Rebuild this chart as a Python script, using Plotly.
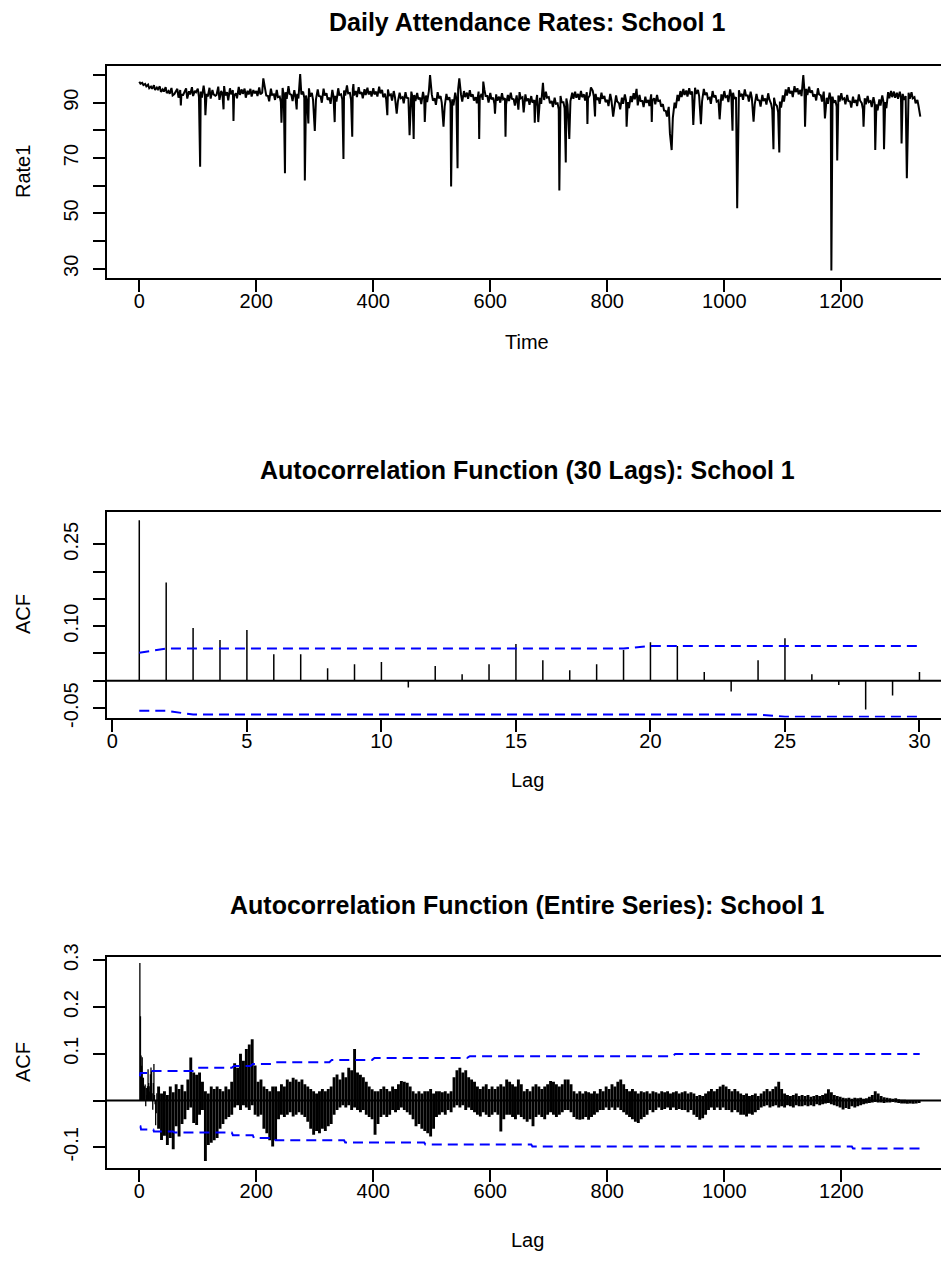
import plotly.graph_objects as go

# ---------------- Data ----------------
# Panel 1: daily attendance rate. Rates read every 5 days, a second reading offset
# by 2 days (the lower side of the jagged band), and the single-day spikes.
base_time = list(range(0, 1340, 5))
base_rate = [
    97.6, 97.2, 96.8, 96.5, 95.8, 96.3, 95.5, 95.9, 94.8, 95.6, 94.2, 95.3, 93.1, 95.0, 94.6, 92.8, 95.2, 94.1, 95.6, 94.3,
    95.1, 94.0, 96.2, 93.2, 95.4, 94.6, 92.5, 95.8, 94.2, 96.0, 93.8, 95.2, 94.5, 93.4, 95.7, 94.8, 95.1, 94.3, 95.0, 94.6,
    94.2, 95.5, 93.6, 94.8, 92.4, 95.1, 93.0, 94.6, 92.2, 95.3, 93.8, 96.0, 92.8, 94.5, 93.2, 95.8, 94.0, 92.6, 95.2, 93.5,
    93.0, 94.8, 92.2, 95.1, 93.4, 91.8, 94.6, 92.5, 95.2, 93.0, 94.4, 96.2, 93.5, 95.0, 94.2, 95.6, 93.8, 94.9, 95.4, 94.1,
    95.2, 94.0, 95.8, 94.6, 93.2, 94.8, 93.0, 94.2, 92.4, 93.6, 92.0, 93.8, 91.6, 94.0, 92.8, 93.5, 91.8, 93.9, 92.6, 94.2,
    93.0, 91.5, 93.8, 92.4, 90.8, 93.2, 92.0, 91.2, 93.6, 94.8, 92.8, 94.2, 93.6, 94.5, 93.0, 92.0, 94.0, 93.2, 94.6, 92.4,
    93.5, 91.8, 93.0, 92.2, 93.4, 91.6, 92.8, 93.6, 91.2, 92.6, 93.8, 92.0, 93.0, 91.5, 92.4, 91.0, 92.8, 91.8, 93.2, 94.0,
    92.0, 90.6, 91.8, 89.8, 92.4, 90.2, 91.5, 92.8, 93.6, 94.0, 93.2, 94.2, 93.0, 93.8, 92.6, 94.4, 93.2, 91.8, 93.6, 92.4,
    91.0, 93.2, 90.4, 92.6, 89.8, 91.8, 93.0, 90.2, 92.4, 93.4, 91.2, 92.8, 90.6, 92.2, 91.0, 93.0, 91.6, 92.8, 90.8, 89.5,
    87.0, 88.5, 86.5, 90.0, 92.8, 94.2, 95.0, 94.4, 95.2, 94.0, 95.4, 94.6, 92.8, 95.0, 93.6, 91.8, 94.2, 92.6, 90.8, 93.0,
    94.2, 92.4, 94.8, 93.6, 92.0, 94.5, 93.2, 94.8, 92.6, 94.0, 91.6, 93.2, 90.8, 92.8, 91.5, 93.4, 89.6, 91.8, 88.8, 90.4,
    92.6, 94.8, 95.6, 94.2, 96.0, 95.2, 94.6, 96.4, 95.0, 95.8, 94.4, 93.0, 95.2, 92.6, 94.0, 91.8, 93.6, 92.2, 90.8, 92.6,
    93.4, 91.6, 92.8, 90.4, 92.2, 91.0, 93.0, 89.8, 91.6, 92.4, 90.6, 92.0, 89.4, 91.2, 92.6, 90.2, 93.8, 94.2, 94.0, 93.6,
    94.0, 93.2, 92.4, 93.6, 93.8, 92.0, 91.0, 85.0,
]
mid_time = list(range(2, 1335, 5))
mid_rate = [
    96.9, 96.4, 95.9, 95.2, 95.0, 94.6, 94.8, 93.9, 94.0, 93.5, 93.2, 92.6, 94.0, 91.8, 92.9, 93.6, 91.5, 93.0, 92.4, 93.8,
    92.0, 91.8, 93.0, 92.2, 91.5, 93.0, 92.8, 91.0, 93.4, 92.6, 90.8, 93.0, 92.4, 91.6, 92.8, 93.2, 91.8, 93.0, 92.2, 93.4,
    92.4, 93.0, 91.5, 92.6, 90.5, 92.8, 91.0, 92.0, 90.2, 92.6, 91.4, 93.2, 90.6, 92.0, 91.5, 93.0, 91.8, 90.4, 92.2, 91.0,
    91.2, 92.4, 90.0, 92.6, 91.0, 89.6, 92.2, 90.4, 92.8, 91.2, 92.6, 93.4, 91.0, 92.6, 92.0, 93.2, 91.6, 92.8, 93.0, 92.2,
    93.0, 92.2, 93.4, 92.0, 91.2, 92.6, 90.8, 92.0, 90.4, 91.6, 89.8, 91.8, 89.6, 92.0, 90.6, 91.2, 89.5, 91.4, 90.2, 92.0,
    90.8, 89.2, 91.6, 90.0, 88.6, 91.0, 89.8, 89.0, 91.4, 92.6, 90.4, 92.0, 91.4, 92.2, 90.8, 89.8, 91.8, 91.0, 92.4, 90.0,
    91.2, 89.6, 90.8, 90.0, 91.2, 89.4, 90.6, 91.4, 89.0, 90.2, 91.6, 89.8, 90.6, 89.2, 90.0, 88.8, 90.4, 89.6, 91.0, 91.8,
    89.8, 88.4, 89.6, 87.6, 90.2, 88.0, 89.2, 90.6, 91.4, 91.8, 91.0, 92.0, 90.8, 91.6, 90.4, 92.2, 91.0, 89.6, 91.4, 90.2,
    88.8, 91.0, 88.2, 90.4, 87.6, 89.6, 90.8, 88.0, 90.2, 91.2, 89.0, 90.6, 88.4, 90.0, 88.8, 90.8, 89.4, 90.6, 88.6, 87.2,
    85.0, 86.8, 84.5, 88.0, 90.6, 92.0, 92.8, 92.2, 93.0, 91.8, 93.2, 92.4, 90.6, 92.8, 91.4, 89.6, 92.0, 90.4, 88.6, 90.8,
    92.0, 90.2, 92.6, 91.4, 89.8, 92.3, 91.0, 92.6, 90.4, 91.8, 89.4, 91.0, 88.6, 90.6, 89.3, 91.2, 87.4, 89.6, 86.6, 88.2,
    90.4, 92.6, 93.4, 92.0, 93.8, 93.0, 92.4, 94.2, 92.8, 93.6, 92.2, 90.8, 93.0, 90.4, 91.8, 89.6, 91.4, 90.0, 88.6, 90.4,
    91.2, 89.4, 90.6, 88.2, 90.0, 88.8, 90.8, 87.6, 89.4, 90.2, 88.4, 89.8, 87.2, 89.0, 90.4, 88.0, 91.6, 92.0, 91.8, 91.4,
    91.8, 91.0, 90.2, 91.4, 91.6, 89.8, 88.8,
]
spike_time = [71, 104, 113, 144, 161, 212, 243, 249, 269, 275, 283, 289, 300, 334, 349, 364, 366,
              424, 440, 462, 469, 488, 497, 520, 533, 544, 547, 581, 588, 608, 626, 648, 657, 676,
              682, 690, 718, 729, 735, 766, 772, 779, 810, 833, 850, 876, 907, 910, 947, 960, 992,
              1014, 1022, 1050, 1084, 1094, 1135, 1138, 1172, 1183, 1193, 1238, 1258, 1273, 1303, 1312]
spike_rate = [89.0, 66.9, 85.5, 87.6, 83.4, 98.8, 82.8, 64.5, 87.6, 100.3, 61.9, 82.5, 79.8, 83.0, 69.7, 77.7, 96.7,
              85.5, 86.0, 78.3, 76.9, 83.0, 100.0, 81.3, 59.7, 66.3, 98.8, 76.9, 97.6, 86.0, 77.7, 87.5, 86.5, 82.8,
              83.0, 97.2, 58.3, 68.4, 76.9, 82.3, 95.5, 85.0, 85.0, 81.3, 95.0, 83.0, 79.0, 72.9, 82.0, 82.2, 84.0,
              79.9, 51.9, 83.1, 73.2, 72.0, 100.0, 81.3, 84.3, 29.4, 69.1, 81.3, 72.9, 73.2, 75.3, 62.7]

# Panel 2: ACF, lags 1..30
acf30_lag = list(range(1, 31))
acf30 = [0.294, 0.180, 0.0965, 0.0745, 0.0928, 0.0488, 0.0488, 0.0232, 0.0305, 0.0342,
         -0.0122, 0.0269, 0.0122, 0.0305, 0.0672, 0.0378, 0.0195, 0.0305, 0.0562, 0.0708,
         0.0635, 0.0159, -0.0195, 0.0378, 0.0781, 0.0122, -0.0079, -0.0525, -0.0269, 0.0159]
ci30_upper = [0.0513] + [0.059] * 18 + [0.0635] * 11
ci30_lower = [-0.055, -0.055] + [-0.0617] * 22 + [-0.066] * 6

# Panel 3: ACF of the entire series beyond lag 30, read as the highest and lowest
# bar in each block of 5 lags (blocks centred on lags 33, 38, ..., 1333)
acf_block_first, acf_block_size = 33, 5
acf_high = [
    0.03, 0.015, 0.02, 0.012, 0.03, 0.018, 0.035, 0.025, 0.034, 0.02, 0.045, 0.092, 0.06, 0.055, 0.06, 0.04, 0.02, 0.015, 0.03, 0.025,
    0.03, 0.025, 0.02, 0.03, 0.024, 0.04, 0.08, 0.07, 0.1, 0.085, 0.11, 0.12, 0.131, 0.075, 0.04, 0.045, 0.03, 0.025, 0.02, 0.03,
    0.03, 0.02, 0.035, 0.03, 0.045, 0.04, 0.049, 0.045, 0.04, 0.045, 0.035, 0.03, 0.025, 0.02, 0.015, 0.02, 0.025, 0.02, 0.025, 0.03,
    0.05, 0.056, 0.045, 0.06, 0.05, 0.07, 0.065, 0.11, 0.06, 0.055, 0.05, 0.04, 0.03, 0.024, 0.02, 0.02, 0.025, 0.03, 0.025, 0.02,
    0.03, 0.025, 0.035, 0.042, 0.04, 0.038, 0.03, 0.02, 0.015, 0.02, 0.015, 0.02, 0.02, 0.025, 0.015, 0.02, 0.02, 0.018, 0.02, 0.015,
    0.02, 0.05, 0.065, 0.07, 0.06, 0.065, 0.05, 0.045, 0.04, 0.03, 0.025, 0.03, 0.035, 0.025, 0.03, 0.025, 0.03, 0.035, 0.03, 0.045,
    0.04, 0.035, 0.03, 0.045, 0.035, 0.02, 0.025, 0.02, 0.03, 0.035, 0.03, 0.025, 0.03, 0.035, 0.042, 0.04, 0.035, 0.03, 0.035, 0.045,
    0.045, 0.035, 0.02, 0.015, 0.02, 0.015, 0.02, 0.018, 0.015, 0.02, 0.015, 0.025, 0.02, 0.03, 0.025, 0.035, 0.03, 0.04, 0.045, 0.035,
    0.025, 0.02, 0.025, 0.02, 0.015, 0.02, 0.018, 0.02, 0.015, 0.02, 0.018, 0.015, 0.02, 0.018, 0.02, 0.015, 0.018, 0.02, 0.015, 0.018,
    0.02, 0.015, 0.018, 0.015, 0.01, 0.012, 0.01, 0.015, 0.02, 0.025, 0.02, 0.025, 0.03, 0.034, 0.03, 0.025, 0.02, 0.025, 0.02, 0.015,
    0.012, 0.015, 0.01, 0.012, 0.015, 0.01, 0.015, 0.02, 0.025, 0.02, 0.025, 0.03, 0.04, 0.025, 0.015, 0.012, 0.01, 0.012, 0.015, 0.01,
    0.012, 0.01, 0.012, 0.008, 0.01, 0.012, 0.01, 0.012, 0.015, 0.024, 0.018, 0.012, 0.01, 0.008, 0.006, 0.005, 0.006, 0.004, 0.006, 0.005,
    0.006, 0.004, 0.005, 0.008, 0.012, 0.02, 0.015, 0.01, 0.007, 0.006, 0.005, 0.004, 0.005, 0.003, 0.002, 0.002, 0.001, 0.001, 0.001, 0.001, 0.001,
]
acf_low = [
    -0.06, -0.084, -0.075, -0.095, -0.08, -0.104, -0.055, -0.077, -0.05, -0.04, -0.02, -0.015, -0.048, -0.052, -0.03, -0.02, -0.129, -0.095, -0.09, -0.085,
    -0.08, -0.06, -0.05, -0.04, -0.035, -0.03, -0.015, -0.01, -0.02, -0.01, -0.015, -0.02, -0.01, -0.03, -0.034, -0.03, -0.06, -0.07, -0.085, -0.098,
    -0.085, -0.04, -0.03, -0.035, -0.03, -0.025, -0.034, -0.03, -0.025, -0.03, -0.035, -0.045, -0.06, -0.073, -0.065, -0.07, -0.06, -0.065, -0.055, -0.05,
    -0.03, -0.02, -0.015, -0.01, -0.015, -0.01, -0.02, -0.015, -0.02, -0.025, -0.02, -0.03, -0.035, -0.04, -0.073, -0.05, -0.035, -0.03, -0.035, -0.03,
    -0.02, -0.025, -0.02, -0.015, -0.02, -0.025, -0.03, -0.04, -0.055, -0.05, -0.06, -0.065, -0.07, -0.077, -0.06, -0.035, -0.03, -0.025, -0.03, -0.02,
    -0.025, -0.015, -0.01, -0.015, -0.01, -0.02, -0.015, -0.02, -0.025, -0.03, -0.034, -0.025, -0.03, -0.035, -0.03, -0.025, -0.03, -0.066, -0.04, -0.03,
    -0.03, -0.035, -0.04, -0.03, -0.035, -0.04, -0.045, -0.04, -0.055, -0.035, -0.03, -0.035, -0.04, -0.03, -0.025, -0.03, -0.035, -0.03, -0.025, -0.02,
    -0.02, -0.025, -0.035, -0.04, -0.041, -0.04, -0.035, -0.041, -0.035, -0.03, -0.025, -0.02, -0.02, -0.015, -0.02, -0.015, -0.02, -0.015, -0.02, -0.025,
    -0.03, -0.035, -0.04, -0.045, -0.048, -0.04, -0.035, -0.03, -0.02, -0.025, -0.02, -0.015, -0.02, -0.018, -0.015, -0.02, -0.015, -0.02, -0.018, -0.02,
    -0.02, -0.025, -0.02, -0.03, -0.035, -0.041, -0.038, -0.03, -0.02, -0.015, -0.02, -0.015, -0.02, -0.015, -0.02, -0.02, -0.025, -0.02, -0.025, -0.03,
    -0.03, -0.034, -0.028, -0.03, -0.025, -0.02, -0.015, -0.012, -0.01, -0.015, -0.012, -0.01, -0.015, -0.012, -0.015, -0.01, -0.012, -0.015, -0.01, -0.012,
    -0.012, -0.01, -0.012, -0.01, -0.012, -0.008, -0.01, -0.008, -0.006, -0.005, -0.008, -0.01, -0.012, -0.015, -0.019, -0.016, -0.018, -0.012, -0.015, -0.012,
    -0.01, -0.008, -0.006, -0.005, -0.004, -0.003, -0.004, -0.004, -0.005, -0.004, -0.004, -0.003, -0.004, -0.005, -0.006, -0.006, -0.007, -0.006, -0.007, -0.006, -0.005,
]
ci_all_upper_lag = [1, 2, 19, 20, 95, 100, 158, 162, 190, 194, 225, 229, 325, 329, 398, 402, 560, 565, 912, 916, 1334]
ci_all_upper = [0.052, 0.059, 0.059, 0.0635, 0.0635, 0.070, 0.070, 0.074, 0.074, 0.078, 0.078, 0.082, 0.082,
                0.087, 0.087, 0.091, 0.091, 0.095, 0.095, 0.0996, 0.0996]
ci_all_lower_lag = [1, 2, 3, 24, 25, 58, 60, 158, 160, 194, 196, 231, 233, 350, 352, 487, 489, 670, 672, 1218, 1220, 1334]
ci_all_lower = [-0.055, -0.055, -0.0617, -0.0617, -0.066, -0.066, -0.068, -0.068, -0.074, -0.074, -0.080, -0.080,
                -0.085, -0.085, -0.0896, -0.0896, -0.094, -0.094, -0.098, -0.098, -0.1025, -0.1025]

TITLES = ["Daily Attendance Rates: School 1",
          "Autocorrelation Function (30 Lags): School 1",
          "Autocorrelation Function (Entire Series): School 1"]

# ---------------- Build ----------------
series = dict(zip(base_time, base_rate))
series.update(dict(zip(mid_time, mid_rate)))
series.update(dict(zip(spike_time, spike_rate)))
ts_t = sorted(series)
ts_v = [series[t] for t in ts_t]


def stems(xs, ys, lows=None):
    sx, sy = [], []
    lows = lows if lows is not None else [0] * len(xs)
    for a, lo, hi in zip(xs, lows, ys):
        sx += [a, a, None]
        sy += [lo, hi, None]
    return sx, sy


acf_block_lag = [acf_block_first + acf_block_size * i for i in range(len(acf_high))]

W, H = 941, 1273
FONT = "Liberation Sans, Arial, Helvetica, sans-serif"
BLUE = "#0000FF"
DASH = "10px,6px"
LBL = 20

fig = go.Figure()
fig.add_trace(go.Scatter(x=ts_t, y=ts_v, mode="lines", line=dict(color="black", width=2),
                         xaxis="x", yaxis="y"))

sx, sy = stems(acf30_lag, acf30)
fig.add_trace(go.Scatter(x=sx, y=sy, mode="lines", line=dict(color="black", width=1.5),
                         xaxis="x2", yaxis="y2"))
for band in (ci30_upper, ci30_lower):
    fig.add_trace(go.Scatter(x=acf30_lag, y=band, mode="lines",
                             line=dict(color=BLUE, width=2, dash=DASH), xaxis="x2", yaxis="y2"))

# dense ACF: one vertical stroke per block, from its lowest to its highest bar
bx, by = stems(acf_block_lag, acf_high, acf_low)
fig.add_trace(go.Scatter(x=bx, y=by, mode="lines", line=dict(color="black", width=2.9),
                         xaxis="x3", yaxis="y3"))
fig.add_trace(go.Scatter(x=sx, y=sy, mode="lines", line=dict(color="black", width=1.3),
                         xaxis="x3", yaxis="y3"))
fig.add_trace(go.Scatter(x=ci_all_upper_lag, y=ci_all_upper, mode="lines",
                         line=dict(color=BLUE, width=2, dash=DASH), xaxis="x3", yaxis="y3"))
fig.add_trace(go.Scatter(x=ci_all_lower_lag, y=ci_all_lower, mode="lines",
                         line=dict(color=BLUE, width=2, dash=DASH), xaxis="x3", yaxis="y3"))


def px_y(y):
    return 1 - y / H


def xax(domain, rng, tickvals, anchor):
    return dict(domain=domain, range=rng, anchor=anchor, showline=True, mirror=True, linecolor="black",
                linewidth=2, ticks="outside", ticklen=12, tickwidth=2, tickcolor="black",
                tickvals=tickvals, showgrid=False, zeroline=False, automargin=False,
                tickfont=dict(size=LBL, color="black", family=FONT), ticklabelstandoff=-8)


def yax(domain, rng, tickvals, ticktext, anchor):
    return dict(domain=domain, range=rng, anchor=anchor, showline=True, mirror=False, linecolor="black",
                linewidth=2, ticks="outside", ticklen=12, tickwidth=2, tickcolor="black",
                tickvals=tickvals, ticktext=ticktext, tickangle=-90, showgrid=False, zeroline=False,
                automargin=False, tickfont=dict(size=LBL, color="black", family=FONT), ticklabelstandoff=7)


xd = [107 / W, 1.0]
fig.update_layout(
    width=W, height=H, margin=dict(l=0, r=0, t=0, b=0, pad=0, autoexpand=False),
    plot_bgcolor="white", paper_bgcolor="white", showlegend=False,
    font=dict(family=FONT, size=LBL, color="black"),
    xaxis=xax(xd, [-55.2, 1370.4], [0, 200, 400, 600, 800, 1000, 1200], "y"),
    yaxis=yax([px_y(278), px_y(66)], [26.7, 103.25], [30, 40, 50, 60, 70, 80, 90, 100],
              ["30", "", "50", "", "70", "", "90", ""], "x"),
    xaxis2=xax(xd, [-0.2, 30.8], [0, 5, 10, 15, 20, 25, 30], "y2"),
    yaxis2=yax([px_y(717.5), px_y(512.3)], [-0.0672, 0.3085], [-0.05, 0, 0.05, 0.10, 0.15, 0.20, 0.25],
               ["-0.05", "", "", "0.10", "", "", "0.25"], "x2"),
    xaxis3=xax(xd, [-55.2, 1370.4], [0, 200, 400, 600, 800, 1000, 1200], "y3"),
    yaxis3=yax([px_y(1168.3), px_y(956.7)], [-0.1447, 0.3075], [-0.1, 0, 0.1, 0.2, 0.3],
               ["-0.1", "", "0.1", "0.2", "0.3"], "x3"),
)

# zero lines
for xr, yr in (("x2 domain", "y2"), ("x3 domain", "y3")):
    fig.add_shape(type="line", xref=xr, yref=yr, x0=0, x1=1, y0=0, y1=0,
                  line=dict(color="black", width=2), layer="above")

# titles and axis labels
for title, ypx in zip(TITLES, (22, 470, 905)):
    fig.add_annotation(text="<b>" + title + "</b>", x=527 / W, y=px_y(ypx), xref="paper", yref="paper",
                       showarrow=False, xanchor="center", yanchor="middle", font=dict(size=25, family=FONT))
for txt, xpx, ypx, ang in (("Rate1", 23, 172, -90), ("Time", 527, 342, 0),
                           ("ACF", 23, 614, -90), ("Lag", 527, 780, 0),
                           ("ACF", 23, 1062, -90), ("Lag", 527, 1240, 0)):
    fig.add_annotation(text=txt, x=xpx / W, y=px_y(ypx), xref="paper", yref="paper", showarrow=False,
                       xanchor="center", yanchor="middle", textangle=ang, font=dict(size=LBL, family=FONT))

# the page's default 8px body margin would shift the whole figure; remove it
fig.write_html("out.html", config={"displayModeBar": False},
               post_script="document.body.style.margin='0px';")
